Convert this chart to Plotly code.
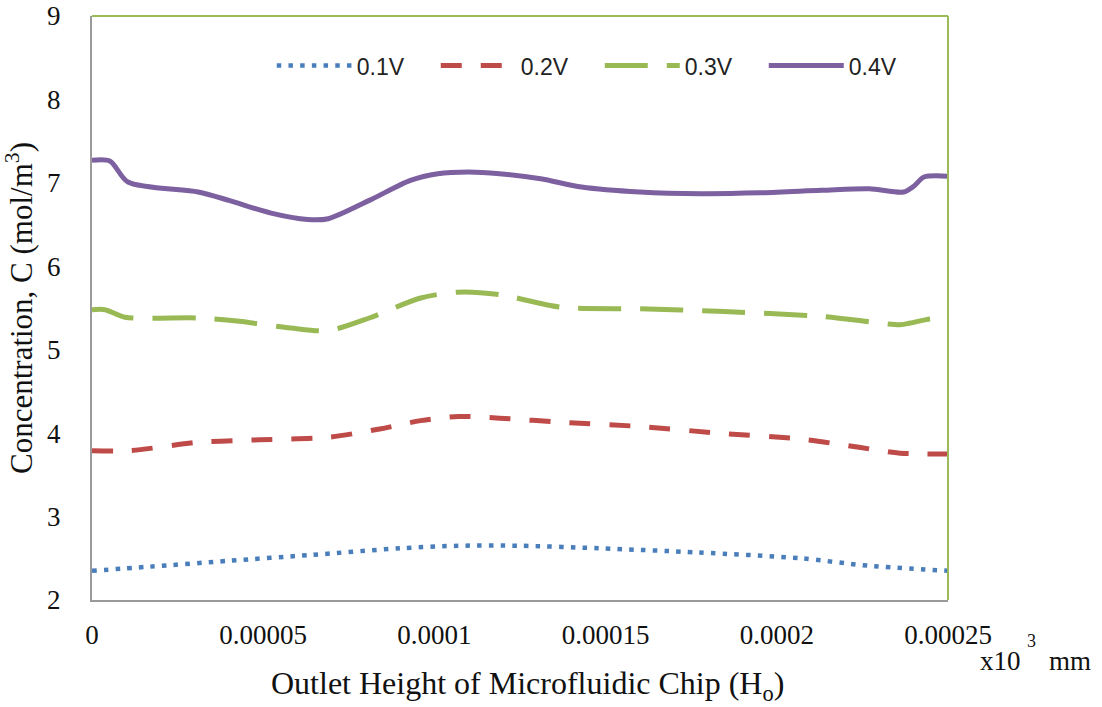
import plotly.graph_objects as go

# Outlet height positions (x10^3 mm) for each sampled point
x_04 = [0, 0.0000053, 0.0000105, 0.000031, 0.000040, 0.000052, 0.000063, 0.000069,
        0.000081, 0.000093, 0.000101, 0.000110, 0.000119, 0.000131, 0.000143,
        0.000160, 0.000178, 0.000195, 0.000213, 0.000227, 0.000237, 0.000240,
        0.000243, 0.00025]
c_04 = [7.27, 7.26, 7.01, 6.89, 6.79, 6.64, 6.56, 6.57,
        6.79, 7.03, 7.11, 7.13, 7.11, 7.05, 6.95,
        6.89, 6.87, 6.88, 6.91, 6.93, 6.89, 6.96,
        7.07, 7.08]

x_03 = [0, 0.0000038, 0.0000096, 0.000031, 0.000043, 0.000058, 0.000069,
        0.000081, 0.000096, 0.000107, 0.000119, 0.000137, 0.000160, 0.000183,
        0.000213, 0.000236, 0.000239, 0.000245, 0.00025]
c_03 = [5.48, 5.48, 5.39, 5.38, 5.34, 5.26, 5.23,
        5.38, 5.62, 5.69, 5.66, 5.51, 5.49, 5.46,
        5.40, 5.30, 5.32, 5.37, 5.36]

x_02 = [0, 0.000011, 0.000031, 0.000049, 0.000069, 0.000084, 0.000096,
        0.000107, 0.000119, 0.000137, 0.000160, 0.000183, 0.000207,
        0.000224, 0.000236, 0.00025]
c_02 = [3.79, 3.79, 3.89, 3.92, 3.95, 4.05, 4.15,
        4.20, 4.18, 4.13, 4.08, 4.00, 3.93,
        3.83, 3.76, 3.75]

x_01 = [0, 0.000017, 0.000040, 0.000064, 0.000090, 0.000107, 0.000125,
        0.000148, 0.000177, 0.000207, 0.000227, 0.00025]
c_01 = [2.35, 2.40, 2.47, 2.54, 2.62, 2.65, 2.65,
        2.62, 2.57, 2.50, 2.41, 2.35]

x_ticks = [0, 0.00005, 0.0001, 0.00015, 0.0002, 0.00025]
x_tick_text = ["0", "0.00005", "0.0001", "0.00015", "0.0002", "0.00025"]
y_ticks = [2, 3, 4, 5, 6, 7, 8, 9]

series = [
    ("0.1V", x_01, c_01, "#4a7ebb", "4.5px,7.2px", 4.5),
    ("0.2V", x_02, c_02, "#be4b48", "21px,19px", 5),
    ("0.3V", x_03, c_03, "#98b954", "43px,19px", 5),
    ("0.4V", x_04, c_04, "#7d60a0", "solid", 5),
]

fig = go.Figure()
for name, xs, ys, color, dash, width in series:
    fig.add_trace(go.Scatter(
        x=xs, y=ys, name=name, mode="lines",
        line=dict(color=color, dash=dash, width=width, shape="spline", smoothing=0.8),
    ))

serif = "Liberation Serif"
PLOT_L, PLOT_R, PLOT_T, PLOT_B = 92, 948, 16, 600


def px_to_paper(px, py):
    return ((px - PLOT_L) / (PLOT_R - PLOT_L), (PLOT_B - py) / (PLOT_B - PLOT_T))


# Axis caption and the unit note beside the x tick labels
text_parts = [
    ("Outlet Height of Microfluidic Chip (H<sub>o</sub>)", 527, 685, "center", 32),
    ("x10", 1023, 661, "right", 27),
    ("3", 1031, 641, "center", 18),
    ("mm", 1047, 661, "left", 27),
]
annotations = []
for txt, px, py, anchor, size in text_parts:
    ax, ay = px_to_paper(px, py)
    annotations.append(dict(text=txt, xref="paper", yref="paper", x=ax, y=ay,
                            xanchor=anchor, yanchor="middle", showarrow=False,
                            font=dict(family=serif, size=size, color="#111")))

fig.update_layout(
    width=1102, height=707,
    margin=dict(l=PLOT_L, r=1102 - PLOT_R, t=PLOT_T, b=707 - PLOT_B, autoexpand=False),
    paper_bgcolor="white", plot_bgcolor="white",
    showlegend=True,
    legend=dict(
        orientation="h", x=0.21, y=0.915, xanchor="left", yanchor="middle",
        font=dict(family="Liberation Sans", size=23, color="#222"),
        itemwidth=75, entrywidth=74, bgcolor="rgba(0,0,0,0)",
    ),
    xaxis=dict(
        range=[0, 0.00025], tickvals=x_ticks, ticktext=x_tick_text, automargin=False,
        showgrid=False, zeroline=False, showline=True, linecolor="#9a9a9a", linewidth=2,
        ticks="", tickfont=dict(family=serif, size=27, color="#111"),
        ticklabelstandoff=10,
    ),
    yaxis=dict(
        range=[2, 9], tickvals=y_ticks, automargin=False,
        showgrid=False, zeroline=False, showline=True, linecolor="#9a9a9a", linewidth=2,
        ticks="", tickfont=dict(family=serif, size=27, color="#111"),
        ticklabelstandoff=24,
        title=dict(text="Concentration, C (mol/m<sup>3</sup>)",
                   font=dict(family=serif, size=31, color="#111"), standoff=10),
    ),
    shapes=[
        dict(type="line", xref="paper", yref="paper", x0=0, x1=1, y0=1, y1=1,
             line=dict(color="#9bbb59", width=2)),
        dict(type="line", xref="paper", yref="paper", x0=1, x1=1, y0=0, y1=1,
             line=dict(color="#9bbb59", width=2)),
    ],
    annotations=annotations,
)

fig.write_html("out.html")
